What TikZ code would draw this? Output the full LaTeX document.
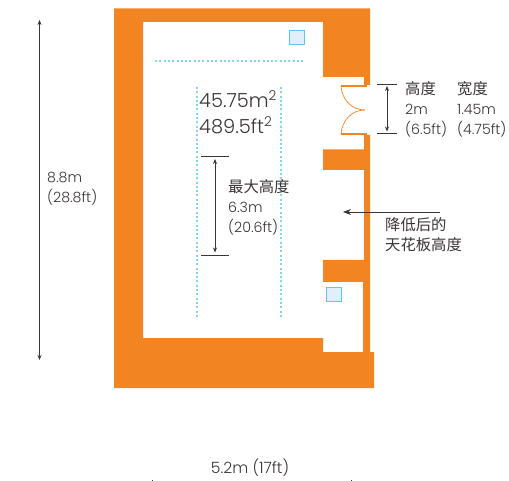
\documentclass[tikz,border=0pt]{standalone}
\usepackage{fontspec}
\setmainfont{Poppins Light}
\newfontfamily\cjk[Scale=1.08]{Noto Sans CJK SC}
\newcommand{\zh}[1]{{\cjk #1}}
\usetikzlibrary{arrows.meta}
\definecolor{wallorange}{HTML}{F28522}
\definecolor{textgray}{HTML}{3A3536}
\definecolor{dotblue}{HTML}{85D2F3}
\definecolor{boxfill}{HTML}{DFF0FA}
\definecolor{boxline}{HTML}{62C3EE}
\tikzset{
    label/.style={anchor=north west, inner sep=0pt, align=left, text=textgray, font=\fontsize{14.2}{20.2}\selectfont},
    biglabel/.style={label, font=\fontsize{19.4}{26}\selectfont},
    dim/.style={draw=textgray, line width=0.9pt, {Stealth[length=5pt,width=4pt]}-{Stealth[length=5pt,width=4pt]}},
    tick/.style={draw=textgray, line width=0.8pt},
    dots/.style={draw=dotblue, line width=1.5pt, dash pattern=on 2pt off 2.3pt},
    vent/.style={draw=boxline, line width=1pt, fill=boxfill},
    leaf/.style={draw=wallorange, line width=0.7pt}
}
\begin{document}
\begin{tikzpicture}[x=1pt, y=-1pt]
    \useasboundingbox (0, 0) rectangle (509, 481);

    \fill[wallorange] (114, 8.5)--(370, 8.5)--(370, 85)--(364, 85)--(364, 77)--(323, 77)--(323, 22)--(143, 22)--(143, 338)--(323, 338)--(323, 352)--(363, 352)--(363, 282)--(323, 282)--(323, 260)--(364, 260)--(364, 170)--(323, 170)--(323, 149.5)--(364, 149.5)--(364, 135)--(370, 135)--(370, 352)--(374, 352)--(374, 388)--(114, 388)--cycle;

    \draw[vent] (289.5, 31) rectangle (304, 45);
    \draw[vent] (326, 287.5) rectangle (341, 302);

    \draw[dots] (155, 61)--(304, 61);
    \draw[dots] (197, 87)--(197, 318);
    \draw[dots] (281, 87)--(281, 318);

    \draw[wallorange, line width=1.1pt] (341, 86)--(366.5, 86);
    \draw[wallorange, line width=1.1pt] (341, 134)--(366.5, 134);
    \draw[leaf] (341, 86) .. controls (342, 100) and (352, 110) .. (365, 110);
    \draw[leaf] (341, 134) .. controls (342, 120) and (352, 110) .. (365, 110);

    \coordinate (heighttop) at (39.5, 20);
    \coordinate (heightbot) at (39.5, 360);
    \draw[dim] (heighttop)--(heightbot);
    \node[label] (heightlabel) at (47, 172) {8.8m\\(28.8ft)};

    \coordinate (doorL1) at (377, 84.5);
    \coordinate (doorR1) at (397, 84.5);
    \coordinate (doorL2) at (377, 133);
    \coordinate (doorR2) at (397, 133);
    \coordinate (doortop) at (387, 86);
    \coordinate (doorbot) at (387, 131.5);
    \draw[tick] (doorL1)--(doorR1);
    \draw[tick] (doorL2)--(doorR2);
    \draw[dim] (doortop)--(doorbot);
    \node[label] (doorheight) at (405, 81) {\zh{高度}\\2m\\(6.5ft)};
    \node[label] (doorwidth) at (457, 81) {\zh{宽度}\\1.45m\\(4.75ft)};

    \coordinate (maxL1) at (201, 156.7);
    \coordinate (maxR1) at (229, 156.7);
    \coordinate (maxL2) at (201, 255);
    \coordinate (maxR2) at (229, 255);
    \coordinate (maxtop) at (215, 159);
    \coordinate (maxbot) at (215, 252.5);
    \draw[tick] (maxL1)--(maxR1);
    \draw[tick] (maxL2)--(maxR2);
    \draw[dim] (maxtop)--(maxbot);
    \node[label] (maxlabel) at (228, 179) {\zh{最大高度}\\6.3m\\(20.6ft)};

    \node[biglabel] (area) at (199, 90) {45.75m\textsuperscript{2}\\489.5ft\textsuperscript{2}};

    \coordinate (lowstart) at (440, 212);
    \coordinate (lowend) at (343, 212);
    \draw[draw=textgray, line width=0.9pt, -{Stealth[length=8pt,width=6pt]}] (lowstart)--(lowend);
    \node[label] (lowlabel) at (385, 217) {\zh{降低后的}\\\zh{天花板高度}};

    \node[label, anchor=center, font=\fontsize{15.6}{19}\selectfont] (widthlabel) at (250, 468) {5.2m (17ft)};
    \coordinate (widthL1) at (152, 480);
    \coordinate (widthL2) at (152, 481);
    \coordinate (widthR1) at (351, 480);
    \coordinate (widthR2) at (351, 481);
    \draw[tick] (widthL1)--(widthL2);
    \draw[tick] (widthR1)--(widthR2);
\end{tikzpicture}
\end{document}
